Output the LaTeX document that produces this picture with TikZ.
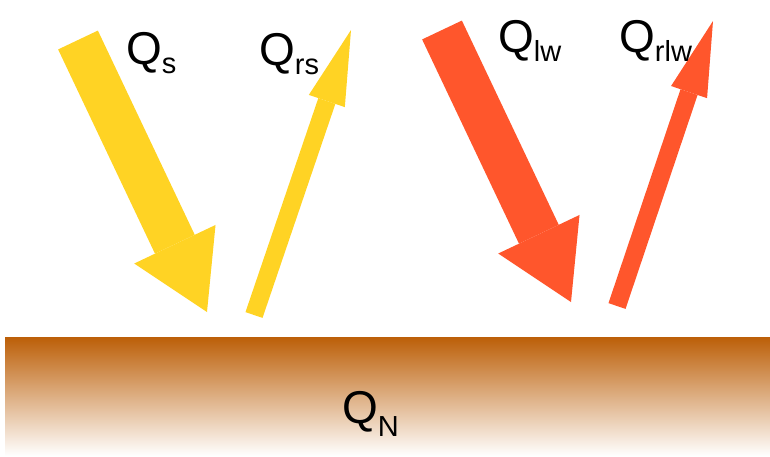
\documentclass[tikz,border=0pt]{standalone}
\usepackage{fontspec}
\setmainfont{Liberation Sans}
\usepackage{tikz}
\usetikzlibrary{arrows.meta}
\definecolor{sunyellow}{RGB}{255,211,36}
\definecolor{heatred}{RGB}{255,86,44}
\definecolor{soilbrown}{RGB}{188,95,8}
\newcommand{\fluxlabel}[2][9pt]{Q\lower#1\hbox{\fontsize{29}{30}\selectfont #2}}

\begin{document}
\begin{tikzpicture}[
  x=1pt, y=-1pt,
  wide/.style={line width=44pt, -{Triangle[length=75pt, width=90pt, line width=0pt]}},
  slim/.style={line width=18pt, -{Triangle[length=75pt, width=38pt, line width=0pt]}},
  lbl/.style={inner sep=0pt, anchor=base west, font=\fontsize{46}{50}\selectfont}
]
  \useasboundingbox (0,0) rectangle (770,456);

  % ground
  \shade[top color=soilbrown, bottom color=white] (5,337) rectangle (770,456);
  \node[lbl] (qn) at (342,423) {\fluxlabel[13pt]{N}};

  % short wave in and out
  \coordinate (sIn0) at (78,40);
  \coordinate (sIn1) at (207,312);
  \coordinate (sOut0) at (254,315);
  \coordinate (sOut1) at (351,30);
  \draw[wide, sunyellow] (sIn0) -- (sIn1);
  \draw[slim, sunyellow] (sOut0) -- (sOut1);
  \node[lbl] (qs) at (126,64) {\fluxlabel{s}};
  \node[lbl] (qrs) at (259,65) {\fluxlabel{rs}};

  % long wave in and out
  \coordinate (lwIn0) at (442,30);
  \coordinate (lwIn1) at (571,302);
  \coordinate (lwOut0) at (617,306);
  \coordinate (lwOut1) at (713,21);
  \draw[wide, heatred] (lwIn0) -- (lwIn1);
  \draw[slim, heatred] (lwOut0) -- (lwOut1);
  \node[lbl] (qlw) at (498,52) {\fluxlabel{lw}};
  \node[lbl] (qrlw) at (619,52) {\fluxlabel{rlw}};
\end{tikzpicture}
\end{document}
